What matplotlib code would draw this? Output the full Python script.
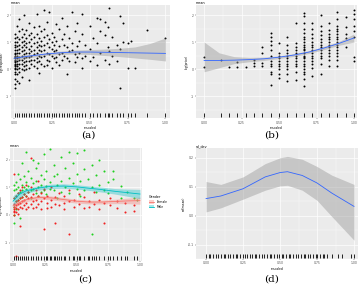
import matplotlib
matplotlib.use("Agg")
import matplotlib.pyplot as plt
import numpy as np
from matplotlib.patches import Patch
from matplotlib.lines import Line2D

# ---- panel (a): scatter + smooth ----
a_xcol = [0.005, 0.02, 0.035, 0.05, 0.065, 0.08, 0.10, 0.115, 0.13, 0.15, 0.165, 0.18,
          0.20, 0.215, 0.23, 0.25, 0.265, 0.28, 0.30, 0.315, 0.33, 0.35, 0.365, 0.38,
          0.40, 0.415, 0.43, 0.45, 0.47, 0.50, 0.52, 0.55, 0.57, 0.60, 0.62, 0.63,
          0.65, 0.68, 0.70, 0.72, 0.75, 0.77, 0.80, 0.88, 1.00]
a_ycol = [[1.3, 1.15, 1.0, 0.9, 0.8, 0.7, 0.6, 0.55, 0.5, 0.45, 0.4, 0.35, 0.3, 0.25, 0.2,
           0.15, 0.1, 0.05, 0.0, -0.1, -0.2, -0.35, -0.55, -0.7],
          [1.6, 1.2, 1.0, 0.85, 0.7, 0.6, 0.5, 0.4, 0.3, 0.2, 0.1, 0.0, -0.2, -0.45],
          [1.85, 1.4, 1.1, 0.9, 0.75, 0.6, 0.45, 0.35, 0.2, 0.05, -0.1, -0.5],
          [1.5, 1.2, 1.0, 0.8, 0.65, 0.5, 0.35, 0.2, 0.0, -0.3],
          [2.0, 1.3, 1.05, 0.9, 0.7, 0.55, 0.4, 0.25, 0.1, -0.05],
          [1.45, 1.15, 0.95, 0.8, 0.6, 0.45, 0.3, 0.15, 0.0],
          [1.7, 1.25, 1.0, 0.75, 0.6, 0.45, 0.3, 0.05, -0.4],
          [1.35, 1.1, 0.85, 0.65, 0.5, 0.35, 0.2],
          [1.55, 1.2, 0.95, 0.7, 0.55, 0.35, 0.1],
          [2.05, 1.3, 1.0, 0.8, 0.6, 0.4, 0.25, 0.05],
          [1.6, 1.15, 0.9, 0.7, 0.5, 0.3, -0.15],
          [1.4, 1.05, 0.85, 0.65, 0.45, 0.2],
          [2.2, 1.5, 1.2, 0.9, 0.7, 0.5, 0.1],
          [1.75, 1.25, 0.95, 0.6, 0.35, 0.15],
          [2.1, 1.1, 0.8, 0.55, 0.3],
          [1.35, 1.0, 0.75, 0.5, 0.05],
          [1.2, 0.9, 0.65, 0.4],
          [1.65, 1.05, 0.7, 0.45, 0.25],
          [1.5, 0.85, 0.55, 0.15],
          [1.9, 1.1, 0.6, 0.35],
          [1.3, 0.9, 0.5],
          [1.6, 0.8, 0.4, -0.2],
          [1.15, 0.65, 0.3],
          [2.1, 0.95, 0.7],
          [1.4, 0.55, 0.25],
          [1.7, 0.85, 0.45],
          [1.05, 0.6],
          [2.05, 1.3, 0.4, 0.05],
          [0.9, 0.5],
          [1.6, 0.75, 0.3],
          [1.15, 0.45],
          [1.9, 0.95, 0.15],
          [1.85, 1.4, 0.6],
          [1.75, 1.25, 0.35],
          [1.55, 0.8],
          [2.25, 0.65, 0.2],
          [1.2, 0.5],
          [0.9, 0.3],
          [1.95, 0.75, -0.7],
          [1.7, 1.0],
          [0.95, 0.05],
          [1.05],
          [0.05],
          [1.45],
          [1.15]]
a_sx = [0.0, 0.1, 0.2, 0.3, 0.4, 0.5, 0.6, 0.7, 0.8, 0.9, 1.0]
a_fit = [0.40, 0.48, 0.55, 0.60, 0.63, 0.63, 0.62, 0.61, 0.60, 0.59, 0.58]
a_lo = [0.30, 0.42, 0.50, 0.54, 0.56, 0.54, 0.50, 0.46, 0.41, 0.36, 0.30]
a_hi = [0.50, 0.54, 0.60, 0.66, 0.70, 0.72, 0.74, 0.77, 0.82, 0.95, 1.15]

# ---- panel (b) ----
b_xcol = [0, 2/18, 3/18, 4/18, 5/18, 6/18, 7/18, 8/18, 9/18, 10/18, 11/18, 12/18,
          13/18, 14/18, 15/18, 16/18, 17/18, 1.0]
b_ycol = [[0.44, 0.07],
          [0.32],
          [0.07],
          [0.25, 0.07],
          [0.07],
          [0.34, 0.22, 0.12],
          [0.83, 0.59, 0.22, 0.1],
          [1.33, 1.2, 1.05, 0.9, 0.7, 0.5, 0.3, 0.2, 0.1, -0.1, -0.2, -0.58],
          [0.96, 0.6, 0.5, 0.4, 0.3, 0.2, 0.1, 0.0, -0.2, -0.33],
          [1.2, 0.9, 0.7, 0.6, 0.5, 0.4, 0.3, 0.2, 0.1, 0.0, -0.2, -0.45],
          [1.7, 0.95, 0.8, 0.7, 0.6, 0.5, 0.4, 0.3, 0.2, 0.1, -0.1, -0.4],
          [2.08, 1.95, 1.7, 1.5, 1.35, 1.2, 1.1, 1.0, 0.9, 0.8, 0.75, 0.7, 0.6, 0.5,
           0.45, 0.4, 0.3, 0.2, 0.1, 0.0, -0.1, -0.2, -0.35, -0.64],
          [1.72, 1.5, 1.3, 1.15, 1.0, 0.9, 0.8, 0.7, 0.6, 0.5, 0.4, 0.3, 0.2, 0.05, -0.27],
          [2.0, 1.6, 1.4, 1.25, 1.1, 1.0, 0.9, 0.8, 0.7, 0.6, 0.5, 0.4, 0.2, -0.2],
          [1.7, 1.45, 1.3, 1.2, 1.1, 1.0, 0.9, 0.8, 0.7, 0.6, 0.5, 0.35, 0.1],
          [2.1, 1.85, 1.6, 1.5, 1.4, 1.3, 1.2, 1.1, 1.0, 0.9, 0.8, 0.7, 0.6, 0.5, 0.35, 0.1],
          [1.94, 1.55, 1.3, 1.15, 0.83],
          [2.2, 2.05, 1.85, 1.6, 1.4, 1.2, 0.45, 0.28]]
b_sx = [0.0, 0.1, 0.2, 0.3, 0.4, 0.5, 0.6, 0.7, 0.8, 0.9, 1.0]
b_fit = [0.32, 0.32, 0.33, 0.35, 0.38, 0.44, 0.52, 0.63, 0.78, 0.95, 1.15]
b_lo = [-0.10, 0.05, 0.20, 0.27, 0.32, 0.39, 0.47, 0.58, 0.72, 0.88, 1.00]
b_hi = [1.00, 0.60, 0.46, 0.43, 0.44, 0.49, 0.57, 0.68, 0.84, 1.02, 1.30]

# ---- panel (c): two groups ----
c_gx = [0.01, 0.025, 0.04, 0.055, 0.07, 0.085, 0.10, 0.12, 0.14, 0.16, 0.18, 0.20, 0.22,
        0.24, 0.26, 0.29, 0.32, 0.35, 0.38, 0.41, 0.44, 0.47, 0.50, 0.53, 0.56, 0.59,
        0.62, 0.65, 0.68, 0.72, 0.75, 0.79, 0.85, 0.90, 0.95, 0.98]
c_gy = [[1.1, 0.9, 0.6, 0.3, -0.3, 0.0], [1.2, 0.95, 0.7, 0.5, 0.2], [1.5, 1.0, 0.8, 0.55],
        [1.3, 0.85, 0.6, -0.1], [1.9, 1.1, 0.9, 0.65], [1.4, 1.0, 0.75], [2.3, 1.2, 0.95, 0.7],
        [1.6, 1.05, 0.85], [1.35, 0.9, 0.6], [2.0, 1.15, 0.95], [1.7, 1.25, 0.8],
        [1.9, 1.0, 0.7], [1.45, 1.1, 0.85], [2.2, 1.3, 0.9], [1.6, 1.05, 0.75],
        [2.4, 1.2, 0.95], [1.8, 1.4, 0.9], [1.5, 1.1, 0.6], [2.1, 1.25, 0.85], [1.7, 1.0],
        [2.3, 1.35, 0.8], [1.9, 1.15], [2.25, 1.5, 0.95], [1.25, 0.7], [2.35, 1.65, 0.9],
        [2.5, 1.3], [1.8, -0.7, 1.0], [1.45, 0.85], [2.0, 1.1], [1.6, 0.9], [1.2, 0.8],
        [1.6, 1.3], [1.05, 0.6], [0.85], [0.6], [0.55]]
c_rx = [0.01, 0.025, 0.04, 0.055, 0.07, 0.085, 0.10, 0.12, 0.14, 0.16, 0.18, 0.20, 0.22,
        0.24, 0.27, 0.30, 0.33, 0.36, 0.40, 0.44, 0.48, 0.52, 0.56, 0.60, 0.64, 0.68,
        0.72, 0.76, 0.82, 0.88, 0.95]
c_ry = [[0.6, 0.4, 0.3, 0.2, 0.15, 0.1, 0.0, 1.5], [0.7, 0.5, 0.35, 0.25, 0.1, -1.5],
        [0.8, 0.55, 0.4, 0.2, 0.05], [0.9, 0.6, 0.45, 0.3, -0.4], [1.0, 0.65, 0.5, 0.25],
        [0.75, 0.55, 0.35], [1.1, 0.7, 0.45, 0.2], [0.85, 0.6, 0.3], [2.05, 1.0, 0.65, 0.4],
        [0.75, 0.5, 0.25], [0.9, 0.55, 0.3], [1.25, 0.7, 0.4], [0.8, 0.5, 0.2],
        [0.95, 0.6, -0.5], [0.7, 0.45, 0.25], [1.0, 0.55, 0.3], [0.65, 0.4, -0.3],
        [0.8, 0.35], [0.7, 0.45, 0.2], [0.9, 0.5, -0.7], [0.55, 0.3], [0.75, 0.4],
        [0.65, 0.25], [0.5, 0.3], [0.85, 0.4], [0.55, 0.2], [-0.3, 0.45], [0.6, 0.35],
        [0.5, 0.25], [0.45, 0.1], [0.35, 0.15]]
c_sx = [0.0, 0.05, 0.1, 0.2, 0.3, 0.4, 0.5, 0.6, 0.7, 0.8, 0.9, 1.0]
c_m_fit = [0.50, 0.75, 0.87, 0.98, 1.04, 1.05, 1.02, 0.97, 0.92, 0.86, 0.81, 0.76]
c_m_se = [0.20, 0.12, 0.09, 0.08, 0.08, 0.08, 0.08, 0.08, 0.09, 0.10, 0.13, 0.17]
c_f_fit = [0.33, 0.45, 0.55, 0.64, 0.62, 0.56, 0.50, 0.47, 0.47, 0.49, 0.51, 0.52]
c_f_se = [0.12, 0.08, 0.07, 0.07, 0.07, 0.07, 0.07, 0.07, 0.07, 0.08, 0.10, 0.13]
c_groups = ["Female", "Male"]

# ---- panel (d): smooth only ----
d_sx = [0.0, 0.1, 0.25, 0.4, 0.5, 0.55, 0.65, 0.75, 0.85, 1.0]
d_fit = [0.059, 0.068, 0.093, 0.134, 0.149, 0.152, 0.139, 0.113, 0.078, 0.032]
d_lo = [0.013, 0.027, 0.057, 0.088, 0.103, 0.105, 0.088, 0.053, -0.003, -0.085]
d_hi = [0.118, 0.108, 0.134, 0.180, 0.200, 0.205, 0.195, 0.170, 0.140, 0.108]
d_rug = [0.0, 0.02, 0.03, 0.05, 0.07, 0.08, 0.10, 0.12, 0.13, 0.15, 0.16, 0.18, 0.20,
         0.21, 0.23, 0.25, 0.26, 0.28, 0.30, 0.31, 0.33, 0.34, 0.36, 0.38, 0.39, 0.41,
         0.43, 0.44, 0.46, 0.48, 0.49, 0.51, 0.52, 0.54, 0.56, 0.57, 0.59, 0.61, 0.62,
         0.64, 0.66, 0.67, 0.69, 0.70, 0.72, 0.74, 0.75, 0.77, 0.79, 0.80, 0.82, 0.85,
         0.89, 0.92, 0.98, 1.0]

TXT = 2.2
BLUE = "#3366FF"


def flat(xs, ycols):
    px, py = [], []
    for x, ys in zip(xs, ycols):
        px += [x] * len(ys)
        py += ys
    return np.array(px), np.array(py)


def gg(ax, title, xlab, ylab, yticks, ylabels, xlim, ylim):
    ax.set_facecolor("#EBEBEB")
    ax.set_xlim(*xlim)
    ax.set_ylim(*ylim)
    xt = [0, 0.25, 0.5, 0.75, 1.0]
    ax.set_xticks(xt)
    ax.set_xticklabels(["0.00", "0.25", "0.50", "0.75", "1.00"])
    ax.set_xticks([0.125, 0.375, 0.625, 0.875], minor=True)
    ax.set_yticks(yticks)
    ax.set_yticklabels(ylabels)
    step = yticks[0] - yticks[1]
    ax.set_yticks([v - step / 2 for v in yticks], minor=True)
    ax.grid(True, which="major", color="white", lw=0.5)
    ax.grid(True, which="minor", color="white", lw=0.25)
    ax.set_axisbelow(True)
    for s in ax.spines.values():
        s.set_visible(False)
    ax.tick_params(which="major", length=1, width=0.3, color="#333333",
                   labelsize=TXT, labelcolor="#4D4D4D", pad=0.8)
    ax.tick_params(which="minor", length=0)
    ax.set_xlabel(xlab, fontsize=TXT, labelpad=0.8)
    ax.set_ylabel(ylab, fontsize=TXT, labelpad=1)
    ax.set_title(title, fontsize=2.4, loc="left", pad=0.8)


def rug(ax, xs):
    ax.vlines(np.unique(xs), 0.005, 0.045, color="black", lw=0.6,
              transform=ax.get_xaxis_transform())


fig = plt.figure(figsize=(3.62, 2.88), dpi=100)

# (a)
ax = fig.add_axes([11 / 362, 1 - 118 / 288, 159 / 362, 113 / 288])
gg(ax, "mean", "rescaled", "log(response)", [2, 1, 0, -1], ["2", "1", "0", "-1"],
   (-0.02, 1.03), (-1.81, 2.37))
px, py = flat(a_xcol, a_ycol)
ax.scatter(px, py, s=2.0, c="black", lw=0)
ax.fill_between(a_sx, a_lo, a_hi, color="#999999", alpha=0.45, lw=0)
ax.plot(a_sx, a_fit, color=BLUE, lw=0.6)
rug(ax, px)

# (b)
ax = fig.add_axes([196 / 362, 1 - 118 / 288, 161 / 362, 113 / 288])
gg(ax, "mean", "rescaled", "log(price)", [2, 1, 0, -1], ["2", "1", "0", "-1"],
   (-0.054, 1.02), (-1.81, 2.37))
px, py = flat(b_xcol, b_ycol)
ax.scatter(px, py, s=2.0, c="black", lw=0)
ax.fill_between(b_sx, b_lo, b_hi, color="#999999", alpha=0.45, lw=0)
ax.plot(b_sx, b_fit, color=BLUE, lw=0.6)
rug(ax, px)

# (c)
ax = fig.add_axes([10 / 362, 1 - 261 / 288, 132 / 362, 113 / 288])
gg(ax, "mean", "rescaled", "log(response)", [2, 1, 0, -1], ["2", "1", "0", "-1"],
   (-0.024, 1.016), (-1.67, 2.43))
gx, gy = flat(c_gx, c_gy)
rx, ry = flat(c_rx, c_ry)
ax.scatter(gx, gy, s=2.2, c="#1FD01F", lw=0)
ax.scatter(rx, ry, s=2.2, c="#F02020", lw=0)
fit_f = np.array(c_f_fit)
se_f = np.array(c_f_se)
fit_m = np.array(c_m_fit)
se_m = np.array(c_m_se)
ax.fill_between(c_sx, fit_f - se_f, fit_f + se_f, color="#F8766D", alpha=0.35, lw=0)
ax.fill_between(c_sx, fit_m - se_m, fit_m + se_m, color="#00BFC4", alpha=0.35, lw=0)
ax.plot(c_sx, fit_f, color="#F8766D", lw=0.6)
ax.plot(c_sx, fit_m, color="#00BFC4", lw=0.6)
rug(ax, np.concatenate([gx, rx]))
handles = [(Patch(facecolor="#F8766D", alpha=0.35), Line2D([], [], color="#F8766D", lw=0.6)),
           (Patch(facecolor="#00BFC4", alpha=0.35), Line2D([], [], color="#00BFC4", lw=0.6))]
fig.legend(handles, c_groups, title="Gender", loc="center left",
           bbox_to_anchor=(146 / 362, 1 - 202 / 288), fontsize=TXT, title_fontsize=2.4,
           frameon=False, handlelength=1.8, handleheight=1.2, labelspacing=0.3,
           alignment="left")

# (d)
ax = fig.add_axes([196 / 362, 1 - 259 / 288, 162 / 362, 111 / 288])
gg(ax, "sd_dev", "rescaled", "sd(mean)", [0.2, 0.1, 0.0, -0.1],
   ["0.2", "0.1", "0.0", "-0.1"], (-0.068, 1.027), (-0.106, 0.234))
ax.fill_between(d_sx, d_lo, d_hi, color="#999999", alpha=0.45, lw=0)
ax.plot(d_sx, d_fit, color=BLUE, lw=0.6)
rug(ax, d_rug)

for lab, x, y in [("(a)", 88, 135), ("(b)", 272, 135), ("(c)", 85, 279), ("(d)", 272, 279)]:
    fig.text(x / 362, 1 - y / 288, lab, ha="center", va="center",
             fontsize=7.5, family="DejaVu Serif")

fig.savefig("out.png", dpi=100)
